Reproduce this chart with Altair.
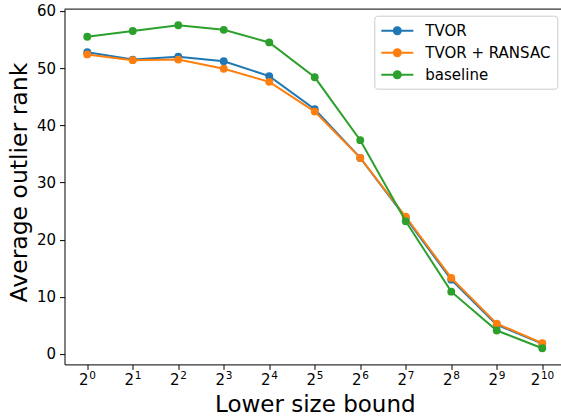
import altair as alt
import pandas as pd

# Lower size bound exponents (2^0 .. 2^10) and the average outlier rank per method
exponents = list(range(11))
tvor = [52.8, 51.5, 52.0, 51.2, 48.6, 42.8, 34.3, 23.8, 13.0, 5.1, 1.8]
tvor_ransac = [52.4, 51.4, 51.5, 49.9, 47.6, 42.4, 34.3, 24.0, 13.3, 5.3, 1.9]
baseline = [55.5, 56.5, 57.5, 56.7, 54.5, 48.4, 37.4, 23.2, 10.9, 4.1, 1.0]

series_names = ["TVOR", "TVOR + RANSAC", "baseline"]
series_colors = ["#1f77b4", "#ff7f0e", "#2ca02c"]
tick_base = "2"
tick_powers = [str(e) for e in exponents]
y_ticks = [0, 10, 20, 30, 40, 50, 60]

FONT = "DejaVu Sans"
PLOT_W = 496.5
PLOT_H = 355.3
PAD_L, PAD_T = 64.5, 9.1
PAD_B = 416 - PAD_T - PLOT_H

df = pd.concat(
    [
        pd.DataFrame({"exp": exponents, "rank": vals, "method": name})
        for name, vals in zip(series_names, [tvor, tvor_ransac, baseline])
    ],
    ignore_index=True,
)
ticks_df = pd.DataFrame({"exp": exponents, "base": tick_base, "power": tick_powers})

x_scale = alt.Scale(domain=[-0.5, 10.412], nice=False, zero=False)
y_scale = alt.Scale(domain=[-1.83, 60.33], nice=False, zero=False)

x_enc = alt.X(
    "exp:Q",
    scale=x_scale,
    axis=alt.Axis(
        values=exponents,
        labels=False,
        title="Lower size bound",
        titleFontSize=23,
        titleFontWeight="normal",
        titleX=250.3,
        titleY=46.6,
        titleBaseline="alphabetic",
        titleAlign="center",
        tickSize=5,
        grid=False,
    ),
)
y_enc = alt.Y(
    "rank:Q",
    scale=y_scale,
    axis=alt.Axis(
        values=y_ticks,
        title="Average outlier rank",
        titleFontSize=23.5,
        titleFontWeight="normal",
        titleX=-38.5,
        titleY=173,
        titleAngle=270,
        titleBaseline="alphabetic",
        titleAlign="center",
        labelFontSize=15,
        labelPadding=4,
        tickSize=5,
        grid=False,
    ),
)

# legend symbol: a short line with a solid dot in the middle
dot = "".join(
    f"M{r},0A{r},{r},0,1,1,-{r},0A{r},{r},0,1,1,{r},0" for r in (0.125, 0.31, 0.44)
)
legend_symbol = "M-2,0L2,0" + dot

color_enc = alt.Color(
    "method:N",
    scale=alt.Scale(domain=series_names, range=series_colors),
    legend=alt.Legend(
        orient="none",
        legendX=309.8,
        legendY=6.6,
        title=None,
        symbolType=legend_symbol,
        symbolSize=256,
        symbolStrokeWidth=2,
        symbolOffset=8,
        labelFontSize=15,
        labelFont=FONT,
        labelColor="black",
        labelOffset=19,
        fillColor="white",
        strokeColor="#cccccc",
        cornerRadius=3,
        padding=6,
        rowPadding=5,
    ),
)

base = alt.Chart(df).encode(x=x_enc, y=y_enc, color=color_enc)

layers = []
for name in series_names:
    sub = base.transform_filter(alt.datum.method == name)
    layers.append(sub.mark_line(strokeWidth=2))
    layers.append(sub.mark_point(filled=True, size=62, opacity=1))

# x tick labels written as 2 with a raised exponent
tick_text = alt.Chart(ticks_df).encode(x=alt.X("exp:Q", scale=x_scale))
for keep, shift in ((alt.datum.exp < 10, 1.4), (alt.datum.exp >= 10, -1.95)):
    t = tick_text.transform_filter(keep)
    layers.append(
        t.mark_text(
            align="right", baseline="alphabetic", fontSize=15, dx=shift, color="black"
        ).encode(text="base:N", y=alt.value(PLOT_H + 20.6))
    )
    layers.append(
        t.mark_text(
            align="left", baseline="alphabetic", fontSize=10.5, dx=shift + 0.6, color="black"
        ).encode(text="power:N", y=alt.value(PLOT_H + 14.6))
    )

# top frame line of the axes box
top_spine = (
    alt.Chart(pd.DataFrame({"edge": [0]}))
    .mark_rule(color="black", strokeWidth=1)
    .encode(y=alt.value(0), x=alt.value(0), x2=alt.value(PLOT_W))
)
layers.append(top_spine)

chart = (
    alt.layer(*layers)
    .properties(
        width=PLOT_W,
        height=PLOT_H,
        autosize=alt.AutoSizeParams(type="none"),
        padding={"left": PAD_L, "top": PAD_T, "right": 0, "bottom": PAD_B},
    )
    .configure(font=FONT)
    .configure_view(stroke=None)
    .configure_axis(
        domainColor="black",
        domainWidth=1,
        tickColor="black",
        tickWidth=1,
        labelColor="black",
        titleColor="black",
        labelFont=FONT,
        titleFont=FONT,
    )
)

chart.save("out.html", embed_options={"renderer": "svg", "actions": False})
